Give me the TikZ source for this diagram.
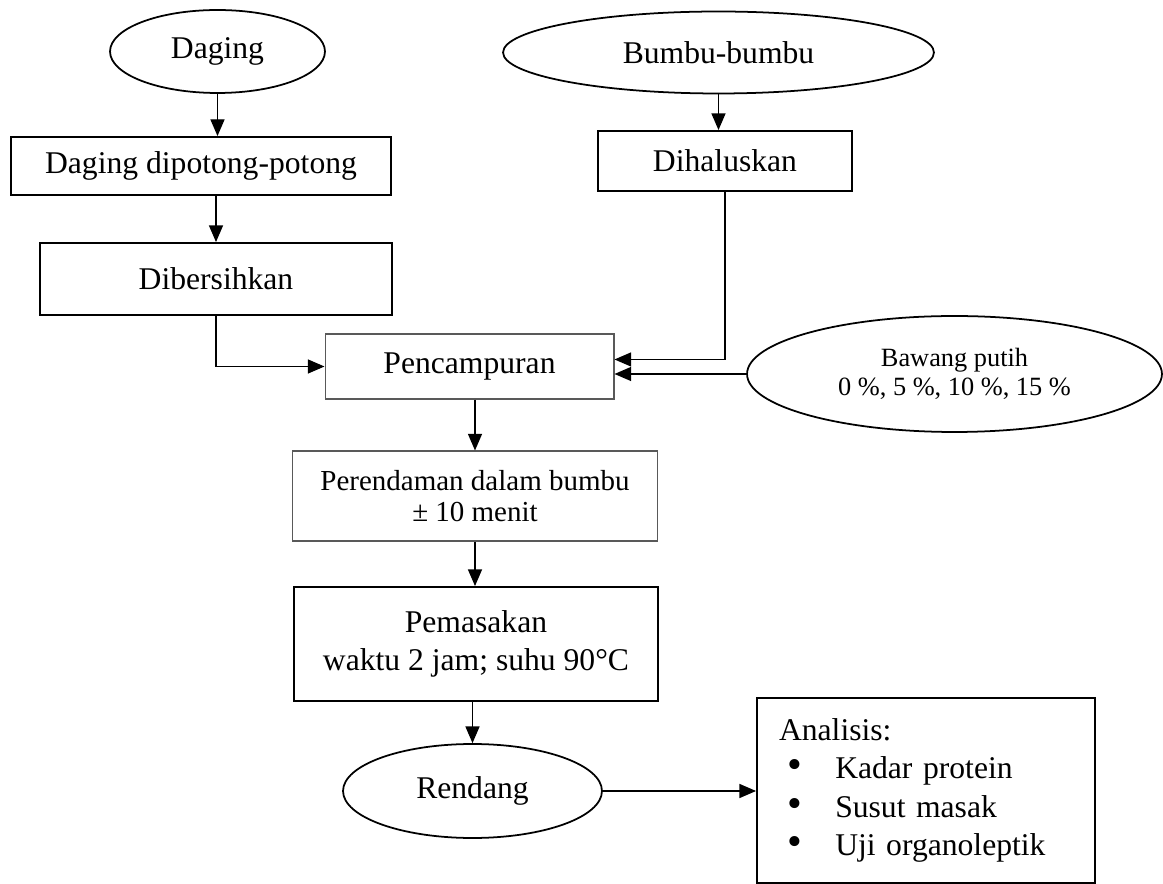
\documentclass[tikz,border=0pt]{standalone}
\usepackage{fontspec}
\setmainfont{Liberation Serif}
\usetikzlibrary{shapes.geometric,arrows.meta}
\newcommand{\titik}{\makebox[27pt][l]{\fontsize{24}{21.7}\selectfont\textbullet}}
\begin{document}
\begin{tikzpicture}[x=0.02cm,y=-0.02cm,
  tebal/.style={draw=black,line width=1.1pt,rectangle},
  tipis/.style={draw=black!65,line width=0.6pt,rectangle},
  bulat/.style={draw=black,line width=1pt,ellipse},
  panah/.style={draw=black,line width=0.75pt,-{Triangle[length=9.5pt,width=8pt]}}]
\tikzstyle{every node}+=[inner sep=0pt,align=center,font=\fontsize{18}{21.7}\selectfont]
\useasboundingbox (0,0) rectangle (1163,884);
% left branch
\node [bulat,minimum width=4.3cm,minimum height=1.66cm] (daging) at (217.5,51.5) {Daging};
\node [tebal,minimum width=7.6cm,minimum height=1.16cm] (potong) at (201,166) {Daging dipotong-potong};
\node [tebal,minimum width=7.04cm,minimum height=1.44cm] (bersih) at (216,279) {Dibersihkan};
% right branch
\node [bulat,minimum width=8.62cm,minimum height=1.64cm] (bumbu) at (718.5,52.5) {Bumbu-bumbu};
\node [tebal,minimum width=5.08cm,minimum height=1.2cm] (halus) at (725,161) {Dihaluskan};
\node [bulat,minimum width=8.3cm,minimum height=2.32cm,font=\fontsize{15}{16.4}\selectfont] (bawang) at (954.5,374) {Bawang putih\\0 \%, 5 \%, 10 \%, 15 \%};
% main line
\node [tipis,minimum width=5.78cm,minimum height=1.3cm] (campur) at (469.5,366.5) {Pencampuran};
\node [tipis,minimum width=7.32cm,minimum height=1.8cm,font=\fontsize{16.5}{18}\selectfont] (rendam) at (475,496) {Perendaman dalam bumbu\\± 10 menit};
\node [tebal,minimum width=7.28cm,minimum height=2.28cm] (masak) at (476,644) {Pemasakan\\waktu 2 jam; suhu 90°C};
\node [bulat,minimum width=5.18cm,minimum height=1.88cm] (rendang) at (472.5,791) {Rendang};
\node [tebal,minimum width=6.76cm,minimum height=3.7cm,align=left,text width=5.88cm] (analisis) at (926,790.5) {Analisis:\\
  \hspace*{5pt}\titik Kadar protein\\
  \hspace*{5pt}\titik Susut masak\\
  \hspace*{5pt}\titik Uji organoleptik};
% arrows
\draw [panah] (daging.south) -- (daging.south |- potong.north);
\draw [panah] (bersih.north |- potong.south) -- (bersih.north);
\draw [panah] (bersih.south) |- (campur.west);
\draw [panah] (bumbu.south) -- (bumbu.south |- halus.north);
\draw [panah] (halus.south) |- ([yshift=4pt]campur.east);
\draw [panah] (bawang.west) -- (bawang.west -| campur.east);
\draw [panah] (rendam.north |- campur.south) -- (rendam.north);
\draw [panah] (rendam.south) -- (rendam.south |- masak.north);
\draw [panah] (rendang.north |- masak.south) -- (rendang.north);
\draw [panah] (rendang.east) -- (rendang.east -| analisis.west);
\end{tikzpicture}
\end{document}
